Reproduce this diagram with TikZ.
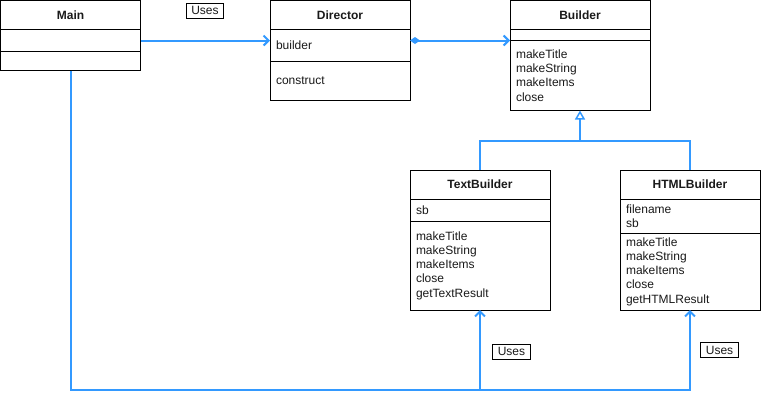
\documentclass[tikz,border=0pt]{standalone}
\usepackage{fontspec}
\setmainfont{Liberation Sans}
\usetikzlibrary{arrows.meta,calc}
\definecolor{blu}{HTML}{3399FF}
\definecolor{txt}{HTML}{1A1A1A}
\tikzset{
  comp/.style={draw=black, line width=1pt, fill=white, anchor=north west, outer sep=0pt,
    inner xsep=6pt, inner ysep=0pt, text width=128pt, align=left,
    font=\fontsize{12}{14.3}\selectfont, text=txt},
  hdr/.style={comp, align=center, font=\fontsize{12}{14.3}\selectfont\bfseries},
  conn/.style={draw=blu, line width=2pt},
  uses/.style={conn, -{Straight Barb[length=5pt,width=10pt]}},
  lbl/.style={draw=black, line width=0.8pt, fill=white, inner xsep=5pt, inner ysep=0pt,
    minimum height=15pt, font=\fontsize{12}{14.3}\selectfont, text=txt}
}
\begin{document}
\begin{tikzpicture}[x=1pt,y=-1pt]
\useasboundingbox (0,0) rectangle (761,400);
% Main
\node[hdr, minimum height=29pt] (mainH) at (0.5,0.5) {Main};
\node[comp, minimum height=22pt] (mainA) at (mainH.south west) {};
\node[comp, minimum height=19pt] (mainM) at (mainA.south west) {};
% Director
\node[hdr, minimum height=29pt] (dirH) at (270,0.5) {Director};
\node[comp, minimum height=32pt] (dirA) at (dirH.south west) {builder};
\node[comp, minimum height=39pt] (dirM) at (dirA.south west) {construct};
% Builder
\node[hdr, minimum height=29pt] (bldH) at (510,0.5) {Builder};
\node[comp, minimum height=11pt] (bldA) at (bldH.south west) {};
\node[comp, minimum height=70pt] (bldM) at (bldA.south west) {makeTitle\\makeString\\makeItems\\close};
% TextBuilder
\node[hdr, minimum height=29pt] (tbH) at (410,170) {TextBuilder};
\node[comp, minimum height=22pt] (tbA) at (tbH.south west) {sb};
\node[comp, minimum height=89pt] (tbM) at (tbA.south west) {makeTitle\\makeString\\makeItems\\close\\getTextResult};
% HTMLBuilder
\node[hdr, minimum height=29pt] (hbH) at (620,170) {HTMLBuilder};
\node[comp, minimum height=34pt] (hbA) at (hbH.south west) {filename\\sb};
\node[comp, minimum height=77pt] (hbM) at (hbA.south west) {makeTitle\\makeString\\makeItems\\close\\getHTMLResult};
% connectors
\draw[uses] (mainA.east) -- (mainA.east -| dirA.west);
\draw[conn, {Diamond[length=10pt,width=7pt]}-{Straight Barb[length=5pt,width=10pt]}]
  (mainA.east -| dirA.east) -- (mainA.east -| bldA.west);
\coordinate (join) at ($(bldM.south)+(0,30)$);
\draw[conn] (tbH.north) |- (join);
\draw[conn] (hbH.north) |- (join);
\draw[conn, -{Triangle[open, length=9pt, width=10pt, fill=white, line width=1.5pt]}] (join) -- (bldM.south);
\coordinate (bot) at ($(tbM.south)+(0,80)$);
\draw[uses] (mainM.south) |- (bot) -- (tbM.south);
\draw[uses] (bot) -| (hbM.south);
% labels
\node[lbl] (u1) at (205,10.5) {Uses};
\node[lbl] (u2) at (511.5,351.5) {Uses};
\node[lbl] (u3) at (719.5,350) {Uses};
\end{tikzpicture}
\end{document}
